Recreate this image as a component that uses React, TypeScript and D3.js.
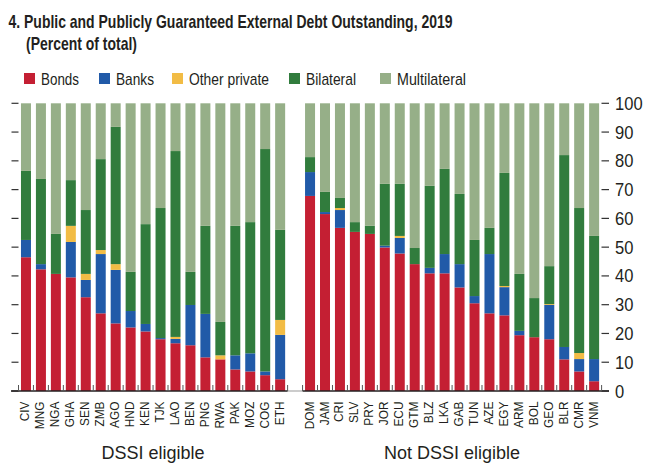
import React from "react";
import * as d3 from "d3";

const dssiCountries = ["CIV","MNG","NGA","GHA","SEN","ZMB","AGO","HND","KEN","TJK","LAO","BEN","PNG","RWA","PAK","MOZ","COG","ETH"];
const nonDssiCountries = ["DOM","JAM","CRI","SLV","PRY","JOR","ECU","GTM","BLZ","LKA","GAB","TUN","AZE","EGY","ARM","BOL","GEO","BLR","CMR","VNM"];

const seriesKeys = ["Bonds","Banks","Other private","Bilateral","Multilateral"];
const seriesColors = ["#C41F33","#215AA8","#F2BC45","#317C3D","#96AF88"];

// per-country shares in order: Bonds, Banks, Other private, Bilateral (Multilateral = remainder)
const dssiBonds = [46.5,42.3,40.7,39.5,32.6,27.0,23.5,22.1,20.7,18.0,16.6,15.9,11.7,11.0,7.5,6.8,5.5,4.1];
const dssiBanks = [6.0,1.8,0,12.3,6.0,20.6,18.6,5.7,2.6,0.4,1.5,14.0,15.1,0,4.9,6.3,1.3,15.4];
const dssiOther = [0,0,0,5.6,2.1,1.4,2.0,0,0,0,0.7,0,0,1.4,0,0,0,5.2];
const dssiBilateral = [24.0,29.6,13.9,15.9,22.2,31.6,47.7,13.6,34.7,45.2,64.6,11.5,30.6,11.6,45.0,45.6,77.3,31.3];

const nonBonds = [67.8,61.5,56.7,55.3,54.6,49.9,47.8,44.1,40.9,40.9,36.0,30.5,27.0,26.3,19.4,18.7,18.0,11.0,6.8,3.4];
const nonBanks = [8.3,0.7,6.2,0,0,0.6,5.4,0,1.9,6.7,8.1,2.5,20.6,9.8,1.5,0,11.9,4.3,4.3,7.7];
const nonOther = [0,0,0.7,0,0,0,0.7,0,0,0,0,0,0,0.4,0,0,0.3,0,2.1,0];
const nonBilateral = [5.2,7.0,3.5,3.4,2.8,21.5,18.1,5.6,28.5,29.6,24.4,19.5,9.1,39.3,19.8,13.6,13.2,66.7,50.4,42.8];

const yTicks = [0,10,20,30,40,50,60,70,80,90,100];
const groupLabels = ["DSSI eligible","Not DSSI eligible"];

const FONT = "'Liberation Sans', Arial, sans-serif";

function buildRows(countries: string[], b: number[], k: number[], o: number[], bi: number[]) {
  return countries.map((c, i) => {
    const row: any = { country: c };
    row["Bonds"] = b[i];
    row["Banks"] = k[i];
    row["Other private"] = o[i];
    row["Bilateral"] = bi[i];
    row["Multilateral"] = Math.max(0, 100 - b[i] - k[i] - o[i] - bi[i]);
    return row;
  });
}

export default function App() {
  const W = 662, H = 466;
  const rows = [
    ...buildRows(dssiCountries, dssiBonds, dssiBanks, dssiOther, dssiBilateral),
    ...buildRows(nonDssiCountries, nonBonds, nonBanks, nonOther, nonBilateral),
  ];
  const GAP = "__gap";
  const domain = [...dssiCountries, GAP, ...nonDssiCountries];
  const x = d3.scaleBand<string>().domain(domain).range([18.5, 601.6]).paddingInner(0.331).paddingOuter(0.1655);
  const y = d3.scaleLinear().domain([0, 100]).range([391, 103.3]);
  const stack = d3.stack<any>().keys(seriesKeys);
  const layers = stack(rows);
  const bw = x.bandwidth();
  const step = x.step();
  const half = (step - bw) / 2;

  const tickXs: number[] = [];
  dssiCountries.forEach((c) => tickXs.push((x(c) as number) - half));
  tickXs.push((x(dssiCountries[dssiCountries.length - 1]) as number) + bw + half);
  nonDssiCountries.forEach((c) => tickXs.push((x(c) as number) - half));
  tickXs.push((x(nonDssiCountries[nonDssiCountries.length - 1]) as number) + bw + half);

  const leftStart = (x(dssiCountries[0]) as number) - half;
  const leftEnd = (x(dssiCountries[dssiCountries.length - 1]) as number) + bw + half;
  const rightStart = (x(nonDssiCountries[0]) as number) - half;
  const rightEnd = (x(nonDssiCountries[nonDssiCountries.length - 1]) as number) + bw + half;

  const legendX = [24, 99, 172, 289, 380];
  const legendW = [38, 38, 80, 50, 69];

  return (
    <svg width={W} height={H} style={{ position: "absolute", left: 0, top: 0 }} fontFamily={FONT}>
      <rect width={W} height={H} fill="#fff" />
      <text x={8.5} y={28} fontSize={18.5} fontWeight="bold" fill="#231f20" textLength={444} lengthAdjust="spacingAndGlyphs">
        4. Public and Publicly Guaranteed External Debt Outstanding, 2019
      </text>
      <text x={26} y={49.5} fontSize={18.5} fontWeight="bold" fill="#231f20" textLength={111} lengthAdjust="spacingAndGlyphs">
        (Percent of total)
      </text>
      {seriesKeys.map((k, i) => (
        <g key={k}>
          <rect x={legendX[i]} y={73} width={11} height={11} fill={seriesColors[i]} />
          <text x={legendX[i] + 17} y={84.5} fontSize={17} fill="#231f20" textLength={legendW[i]} lengthAdjust="spacingAndGlyphs">{k}</text>
        </g>
      ))}
      {layers.map((layer, li) => (
        <g key={layer.key} fill={seriesColors[li]}>
          {layer.map((d: any) => {
            const h = y(d[0]) - y(d[1]);
            if (h <= 0) return null;
            return <rect key={d.data.country} x={x(d.data.country)} y={y(d[1])} width={bw} height={h} />;
          })}
        </g>
      ))}
      {/* y ticks */}
      {yTicks.map((t) => (
        <g key={t}>
          <line x1={11.5} x2={18.5} y1={y(t)} y2={y(t)} stroke="#333" strokeWidth={1.2} />
          <line x1={601.5} x2={609} y1={y(t)} y2={y(t)} stroke="#333" strokeWidth={1.2} />
          <text transform={`translate(615,${y(t) + 6.5}) scale(0.92,1)`} fontSize={18} fill="#231f20">{t}</text>
        </g>
      ))}
      {/* baseline */}
      <line x1={leftEnd} x2={rightStart} y1={391} y2={391} stroke="#bbb" strokeWidth={1.5} />
      <line x1={11} x2={leftEnd} y1={391} y2={391} stroke="#231f20" strokeWidth={1.5} />
      <line x1={rightStart} x2={609} y1={391} y2={391} stroke="#231f20" strokeWidth={1.5} />
      {tickXs.map((tx, i) => (
        <line key={i} x1={tx} x2={tx} y1={391} y2={385} stroke="#555" strokeWidth={1} />
      ))}
      {/* category labels */}
      {rows.map((r) => {
        const cx = (x(r.country) as number) + bw / 2;
        return (
          <text key={r.country} transform={`translate(${cx + 3.5},401.5) rotate(-90) scale(0.95,1)`} textAnchor="end" fontSize={12.5} fill="#231f20">
            {r.country}
          </text>
        );
      })}
      <text x={(leftStart + leftEnd) / 2} y={459} textAnchor="middle" fontSize={18} fill="#231f20">{groupLabels[0]}</text>
      <text x={(rightStart + rightEnd) / 2} y={459} textAnchor="middle" fontSize={18} fill="#231f20">{groupLabels[1]}</text>
    </svg>
  );
}
